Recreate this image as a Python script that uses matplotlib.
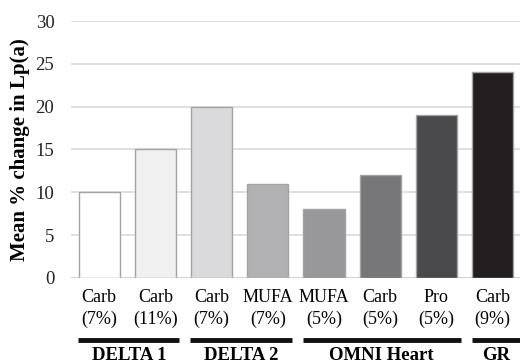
import matplotlib.pyplot as plt
from matplotlib.transforms import blended_transform_factory

# Data
nutrients = ["Carb", "Carb", "Carb", "MUFA", "MUFA", "Carb", "Pro", "Carb"]
percents = ["(7%)", "(11%)", "(7%)", "(7%)", "(5%)", "(5%)", "(5%)", "(9%)"]
changes = [10, 15, 20, 11, 8, 12, 19, 24]
bar_colors = ["#ffffff", "#f0f0f1", "#dadadc", "#b1b1b3",
              "#98989b", "#77777a", "#4a4a4c", "#231f20"]

# Study groups: name, first bar index, last bar index
groups = ["DELTA 1", "DELTA 2", "OMNI Heart", "GR"]
group_start = [0, 2, 4, 7]
group_end = [1, 3, 6, 7]

plt.rcParams['font.family'] = ['Liberation Serif', 'DejaVu Serif']

fig = plt.figure(figsize=(5.2, 3.64), dpi=100)
ax = fig.add_axes([0.1365, 0.2363, 0.865, 0.706])

x = list(range(len(changes)))
ax.bar(x, changes, width=0.73, color=bar_colors,
       edgecolor="#a3a3a5", linewidth=1, zorder=3)

ax.set_xlim(-0.5, len(changes) - 0.5)
ax.set_ylim(0, 30)
ax.set_yticks([0, 5, 10, 15, 20, 25, 30])
ax.yaxis.grid(True, color="#d9d9d9", linewidth=1.2, zorder=0)
ax.tick_params(axis='y', length=0, labelsize=13.5, pad=12, colors="#222222")
ax.tick_params(axis='x', length=0, labelbottom=False)
for s in ax.spines.values():
    s.set_visible(False)
ax.axhline(0, color="#d0d0d0", linewidth=2, zorder=2)

ax.set_ylabel("Mean % change in Lp(a)", fontsize=15, fontweight='bold',
              labelpad=4)

trans = blended_transform_factory(ax.transData, ax.transAxes)

# Category labels below each bar
for i in x:
    ax.text(i, -0.074, nutrients[i], transform=trans, ha='center',
            va='center', fontsize=13)
    ax.text(i, -0.16, percents[i], transform=trans, ha='center',
            va='center', fontsize=13)

# Group lines and names
for name, a, b in zip(groups, group_start, group_end):
    left = a - 0.375
    right = b + 0.43 if b < len(changes) - 1 else b + 0.5
    ax.plot([left, right], [-0.24, -0.24], transform=trans,
            color="#111111", linewidth=3.5, clip_on=False,
            solid_capstyle='butt')
    ax.text((left + right) / 2, -0.30, name, transform=trans,
            ha='center', va='center', fontsize=13.5, fontweight='bold')

fig.savefig("out.png", dpi=100)
